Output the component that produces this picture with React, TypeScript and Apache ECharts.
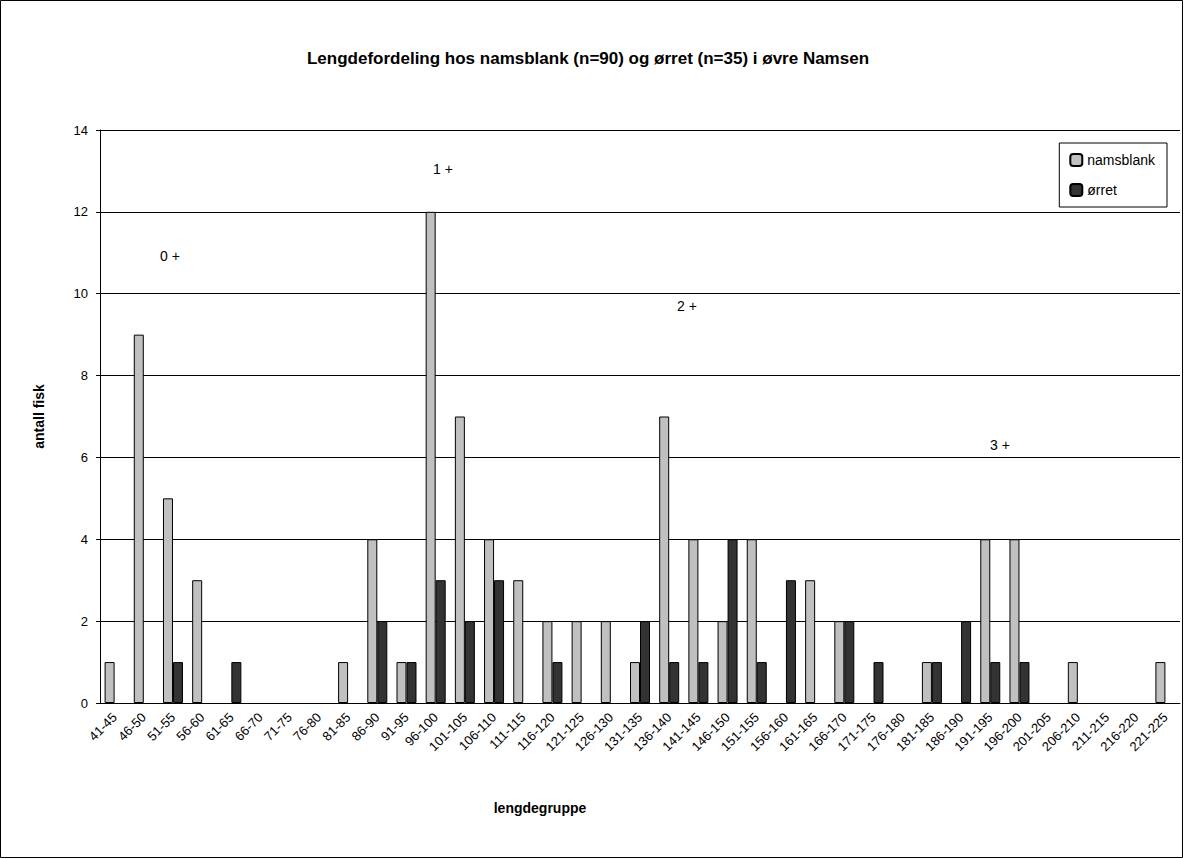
import React, { useEffect, useRef } from "react";
import * as echarts from "echarts";

const categories = [
  "41-45", "46-50", "51-55", "56-60", "61-65", "66-70", "71-75", "76-80", "81-85", "86-90",
  "91-95", "96-100", "101-105", "106-110", "111-115", "116-120", "121-125", "126-130", "131-135", "136-140",
  "141-145", "146-150", "151-155", "156-160", "161-165", "166-170", "171-175", "176-180", "181-185", "186-190",
  "191-195", "196-200", "201-205", "206-210", "211-215", "216-220", "221-225",
];

const namsblank = [
  1, 9, 5, 3, 0, 0, 0, 0, 1, 4,
  1, 12, 7, 4, 3, 2, 2, 2, 1, 7,
  4, 2, 4, 0, 3, 2, 0, 0, 1, 0,
  4, 4, 0, 1, 0, 0, 1,
];

const orret = [
  0, 0, 1, 0, 1, 0, 0, 0, 0, 2,
  1, 3, 2, 3, 0, 1, 0, 0, 2, 1,
  1, 4, 1, 3, 0, 2, 1, 0, 1, 2,
  1, 1, 0, 0, 0, 0, 0,
];

const ageLabels = [
  { text: "0 +", x: 170, y: 256 },
  { text: "1 +", x: 443, y: 169 },
  { text: "2 +", x: 687, y: 306 },
  { text: "3 +", x: 1000, y: 445 },
];

const FONT = "'Liberation Sans', Arial, sans-serif";

// zero counts draw no bar (avoids a bordered hairline at 0)
const hideZero = (arr: number[]) => arr.map((v) => (v === 0 ? "-" : v));

export default function App() {
  const ref = useRef<HTMLDivElement>(null);
  useEffect(() => {
    const chart = echarts.init(ref.current!, null, { renderer: "svg" });
    chart.setOption({
      animation: false,
      backgroundColor: "#ffffff",
      textStyle: { fontFamily: FONT },
      title: {
        text: "Lengdefordeling hos namsblank (n=90) og ørret (n=35) i øvre Namsen",
        left: 583,
        textAlign: "center",
        top: 45,
        textStyle: { fontFamily: FONT, fontSize: 17, fontWeight: "bold", color: "#000" },
      },
      legend: {
        orient: "vertical",
        right: 17,
        top: 143,
        padding: [10, 12, 10, 10],
        itemGap: 16,
        itemWidth: 12,
        itemHeight: 12,
        borderColor: "#000",
        borderWidth: 1,
        textStyle: { fontFamily: FONT, fontSize: 14, color: "#000" },
        data: ["namsblank", "ørret"],
      },
      grid: { left: 100, right: 4, top: 130, bottom: 156, containLabel: false },
      xAxis: {
        type: "category",
        data: categories,
        axisLine: { lineStyle: { color: "#000", width: 1 } },
        axisTick: { lineStyle: { color: "#000" }, length: 4 },
        axisLabel: { rotate: 45, fontSize: 13, color: "#000", interval: 0, margin: 12, fontFamily: FONT },
      },
      yAxis: {
        type: "value",
        min: 0,
        max: 14,
        interval: 2,
        name: "antall fisk",
        nameLocation: "middle",
        nameGap: 54,
        nameTextStyle: { fontFamily: FONT, fontSize: 14, fontWeight: "bold", color: "#000" },
        axisLine: { show: true, lineStyle: { color: "#000" } },
        axisTick: { show: true, length: 4, lineStyle: { color: "#000" } },
        axisLabel: { fontSize: 13, color: "#000", margin: 12, fontFamily: FONT },
        splitLine: { lineStyle: { color: "#000", width: 1 } },
      },
      series: [
        {
          name: "namsblank",
          type: "bar",
          data: hideZero(namsblank),
          barWidth: 10,
          barGap: "0%",
          itemStyle: { color: "#c0c0c0", borderColor: "#000", borderWidth: 1 },
        },
        {
          name: "ørret",
          type: "bar",
          data: hideZero(orret),
          barWidth: 10,
          barGap: "0%",
          itemStyle: { color: "#333333", borderColor: "#000", borderWidth: 1 },
        },
      ],
      graphic: [
        {
          type: "rect",
          shape: { x: 0.5, y: 0.5, width: 1182, height: 857 },
          style: { fill: "none", stroke: "#000", lineWidth: 1 },
          silent: true,
        },
        {
          type: "text",
          x: 540,
          y: 808,
          style: {
            text: "lengdegruppe",
            fontFamily: FONT,
            fontSize: 14,
            fontWeight: "bold",
            fill: "#000",
            textAlign: "center",
            textVerticalAlign: "middle",
          },
        },
        ...ageLabels.map((a) => ({
          type: "text",
          x: a.x,
          y: a.y,
          style: {
            text: a.text,
            fontFamily: FONT,
            fontSize: 14,
            fill: "#000",
            textAlign: "center",
            textVerticalAlign: "middle",
          },
        })),
      ],
    });
    return () => chart.dispose();
  }, []);
  return (
    <div
      ref={ref}
      style={{ position: "absolute", left: 0, top: 0, width: 1184, height: 859 }}
    />
  );
}
